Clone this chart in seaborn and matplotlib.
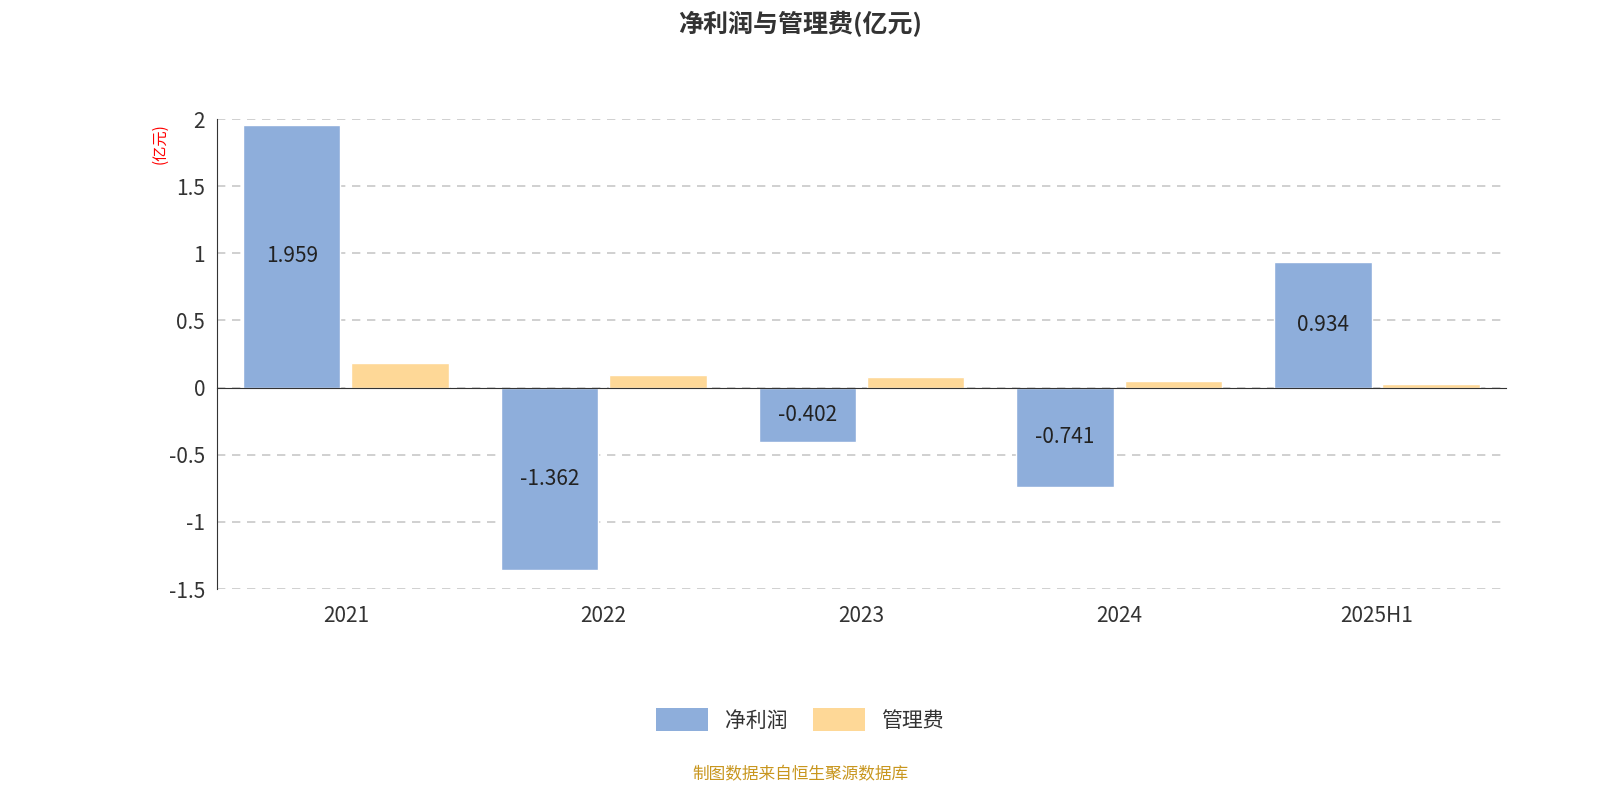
import matplotlib
matplotlib.use("Agg")
import matplotlib.pyplot as plt
import matplotlib.transforms as mtransforms
import seaborn as sns
import pandas as pd
import numpy as np

categories = ["2021", "2022", "2023", "2024", "2025H1"]
net_profit = [1.959, -1.362, -0.402, -0.741, 0.934]
mgmt_fee = [0.18, 0.097, 0.082, 0.052, 0.03]
series_names = ["净利润", "管理费"]
colors = ["#8eaedb", "#fed897"]

sns.set_style("white")
plt.rcParams['font.family'] = ['Noto Sans CJK SC', 'DejaVu Sans']

df = pd.DataFrame({
    "cat": categories * 2,
    "val": net_profit + mgmt_fee,
    "series": [series_names[0]] * 5 + [series_names[1]] * 5,
})

fig = plt.figure(figsize=(16, 8), dpi=100)
ax = fig.add_axes([0.1356, 0.26375, 0.8056, 0.5875])
sns.barplot(data=df, x="cat", y="val", hue="series", palette=colors,
            width=0.84, gap=0.1, ax=ax, legend=False, saturation=1)
ax.set_xlim(-0.5, 4.5)
ax.set_ylim(-1.5, 2)
ax.set_yticks([-1.5, -1, -0.5, 0, 0.5, 1, 1.5, 2])
ax.set_yticklabels(["-1.5", "-1", "-0.5", "0", "0.5", "1", "1.5", "2"], fontsize=15, color="#333333")
ax.yaxis.grid(True, linestyle=(0, (5, 4)), color="#c8c8c8", linewidth=1.2)
ax.set_axisbelow(True)
for s in ["top", "right"]:
    ax.spines[s].set_visible(False)
ax.spines["left"].set_color("#333333")
ax.spines["bottom"].set_position(("data", 0))
ax.spines["bottom"].set_color("#333333")
ax.tick_params(axis="y", length=5, color="#333333")
ax.set_xticks(range(5))
ax.tick_params(axis="x", which="major", length=0, labelbottom=False)
ax.set_xticks(np.arange(-0.5, 5, 1), minor=True)
ax.tick_params(axis="x", which="minor", length=6, color="#333333")
ax.set_xlabel("")
ax.set_ylabel("")

trans = mtransforms.blended_transform_factory(ax.transData, ax.transAxes)
for i, c in enumerate(categories):
    ax.text(i, -0.035, c, transform=trans, ha="center", va="top", fontsize=15, color="#333333")

# value labels on net profit bars
cont = ax.containers[0]
ax.bar_label(cont, labels=[f"{v:g}" for v in net_profit], label_type="center",
             fontsize=15, color="#222222")

fig.text(0.1, 0.82, "(亿元)", rotation=90, color="red", fontsize=11, ha="center", va="center")
fig.text(0.5, 0.97, "净利润与管理费(亿元)", fontsize=18, fontweight="bold", ha="center", va="center", color="#333333")

from matplotlib.patches import FancyBboxPatch
handles = [FancyBboxPatch((0, 0), 1, 1, boxstyle="round,pad=0.1", facecolor=col, edgecolor="none") for col in colors]
fig.legend(handles, series_names, loc="center", bbox_to_anchor=(0.5, 0.1), ncol=2, frameon=False,
           fontsize=15, handlelength=2.5, handleheight=1.3, columnspacing=1.2, labelcolor="#333333")
fig.text(0.5, 0.032, "制图数据来自恒生聚源数据库", fontsize=12, color="#c8961e", ha="center", va="center")

fig.savefig("out.png", dpi=100)
